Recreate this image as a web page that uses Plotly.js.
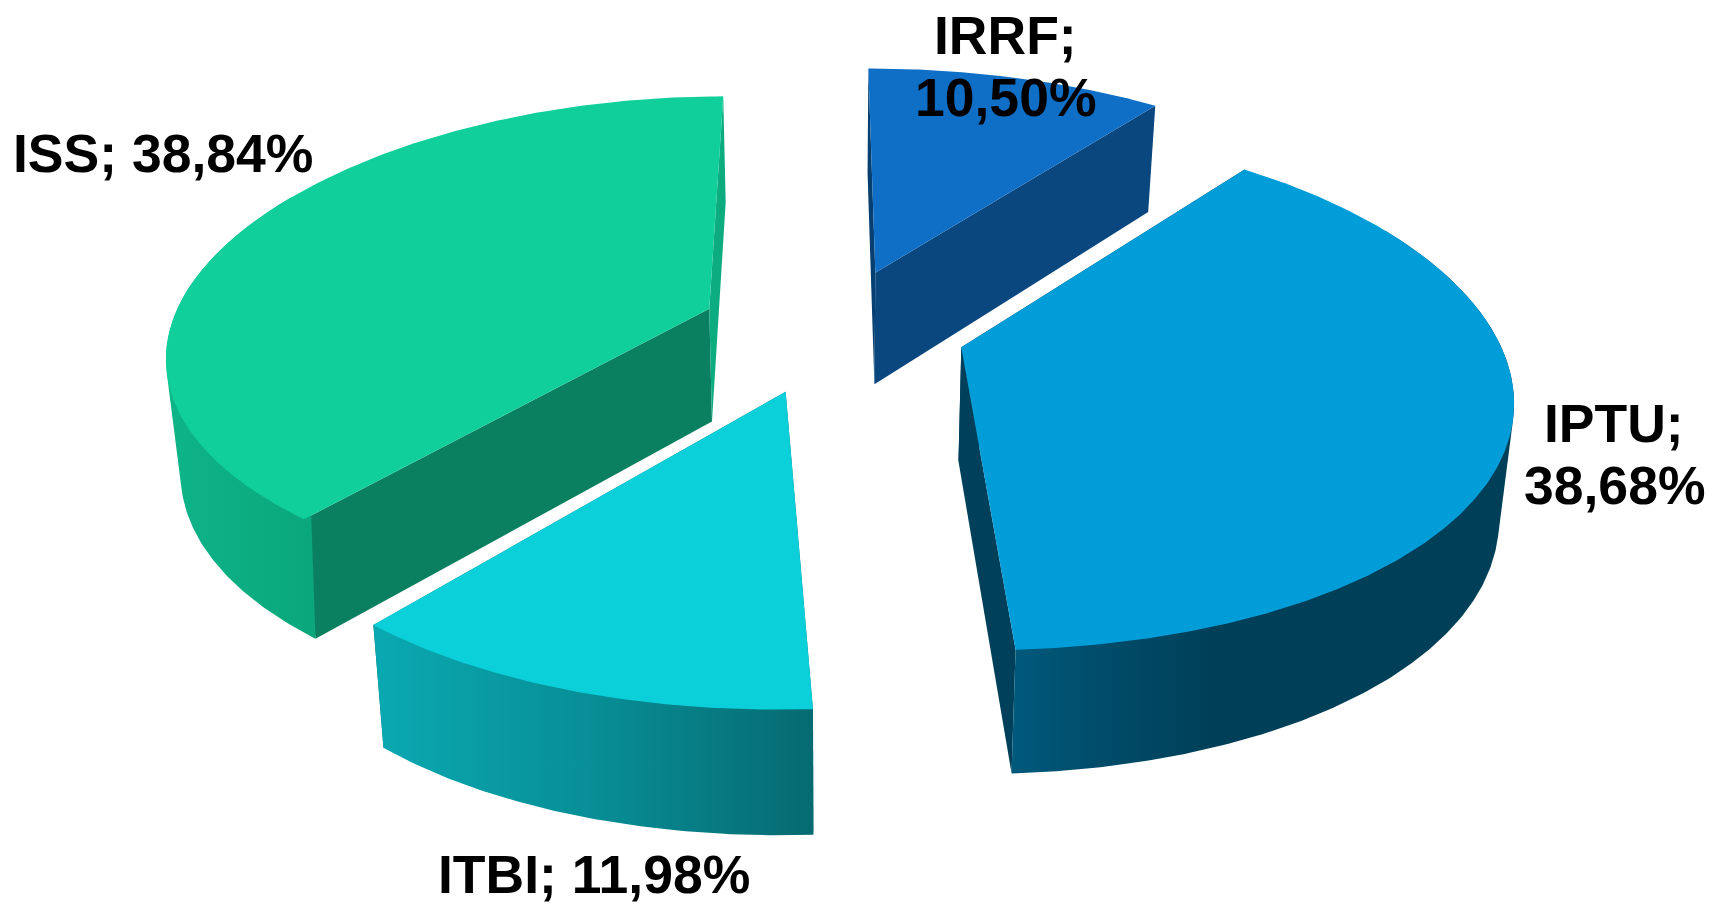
<!DOCTYPE html>
<html><head><meta charset="utf-8">
<script src="https://cdn.plot.ly/plotly-3.0.1.min.js"></script>
<style>html,body{margin:0;padding:0;background:#fff}#c{width:1710px;height:903px}</style>
</head><body><div id="c"></div>
<script>
const categories = ["IRRF","IPTU","ITBI","ISS"];
const shares = [10.50,38.68,11.98,38.84];

// exploded-slice distance, as in a pie's "pull"
const pull = [0.245,0.25,0.272,0.243];
const topColors = ["#0F6FC6","#009DD9","#0BD0D9","#10CF9B"];
const startWallColors = ["#063F70","#00405A","#066D74","#0B8061"];
const endWallColors = ["#0A477F","#00405A","#066D74","#0CAB80"];
const outerWallScales = [
  [[0,"#0A477F"],[1,"#0A477F"]],
  [[0,"#005A7C"],[0.15,"#004E6C"],[0.4,"#003F58"],[1,"#003F58"]],
  [[0,"#0AA9B2"],[0.5,"#088E96"],[1,"#066A71"]],
  [[0,"#0EB488"],[1,"#0BA67C"]]
];
// projection of the pie plane on the page
const view = {cx:832.5,cy:329,a:540,b:243,k:0.19,depth0:106,depthY0:96,depthGrow:0.032,shrink:0.978};
// small per-slice perspective corrections (far side / near side of the slice)
const shearFar = [-7,-4,0,14];
const shearNear = [0,20,-7,-4];
const stretchFar = [1,1.07,1.18,1.04];
const stretchNear = [1,1.01,1.06,0.96];
const widen = [0.99,1,1,0.985];
const labelLines = [
  [{x:1005,y:35,text:"IRRF;"},{x:1005,y:97,text:null}],
  [{x:1614,y:423,text:"IPTU;"},{x:1614,y:485,text:null}],
  [{x:594,y:874,text:"full"}],
  [{x:163,y:153,text:"full"}]
];

function local(i,u,v){
  const w = 1+view.k*v;
  const sh = (shearFar[i]-shearNear[i])/2*v + (shearFar[i]+shearNear[i])/2*v*v;
  const st = (stretchFar[i]+stretchNear[i])/2 + (stretchFar[i]-stretchNear[i])/2*v;
  return [view.a*widen[i]*u/w + sh, -view.b*v/w*st];
}
function lower(p){
  return [view.cx+(p[0]-view.cx)*view.shrink, p[1]+view.depth0+view.depthGrow*(p[1]-view.depthY0)];
}
function hull(points){
  const pts = points.slice().sort((a,b)=>a[0]-b[0]||a[1]-b[1]);
  const cross = (o,a,b)=>(a[0]-o[0])*(b[1]-o[1])-(a[1]-o[1])*(b[0]-o[0]);
  const lo = [], up = [];
  pts.forEach(p=>{while(lo.length>1&&cross(lo[lo.length-2],lo[lo.length-1],p)<=0)lo.pop();lo.push(p);});
  pts.slice().reverse().forEach(p=>{while(up.length>1&&cross(up[up.length-2],up[up.length-1],p)<=0)up.pop();up.push(p);});
  return lo.slice(0,-1).concat(up.slice(0,-1));
}
const rad = d=>d*Math.PI/180;
const total = shares.reduce((s,v)=>s+v,0);

const traces = [];
function addPoly(name,pts,extra){
  const closed = pts.concat([pts[0]]);
  traces.push(Object.assign({type:"scatter",mode:"lines",name,showlegend:false,hoverinfo:"name",
    x:closed.map(p=>p[0]),y:closed.map(p=>p[1]),fill:"toself",line:{width:0}},extra));
}
let cum = 0;
const slices = categories.map((name,i)=>{
  const from = cum/total*360;
  cum += shares[i];
  const to = cum/total*360;
  const mid = (from+to)/2, p = pull[i];
  const ax = view.cx+view.a*p*Math.sin(rad(mid)), ay = view.cy-view.b*p*Math.cos(rad(mid));
  const apex = [ax,ay];
  const arc = [], front = [];
  const n = Math.ceil(to-from)*2;
  for(let j=0;j<=n;j++){
    const t = rad(from+(to-from)*j/n);
    const q = local(i,Math.sin(t),Math.cos(t));
    const pt = [ax+q[0],ay+q[1]];
    arc.push(pt);
    if(Math.cos(t)<=0.5) front.push(pt);
  }
  return {name,i,apex,arc,front};
});
// back to front
[0,3,1,2].forEach(k=>{
  const s = slices[k], i = s.i, A = s.apex, arc = s.arc, B = arc[0], E = arc[arc.length-1];
  addPoly(s.name,[A,B,lower(B),lower(A)],{fillcolor:startWallColors[i]});
  addPoly(s.name,[A,E,lower(E),lower(A)],{fillcolor:endWallColors[i]});
  if(s.front.length>1){
    addPoly(s.name,hull(s.front.concat(s.front.map(lower))),{fillcolor:"#000",
      fillgradient:{type:"horizontal",colorscale:outerWallScales[i]}});
  }
  addPoly(s.name,[A].concat(arc),{fillcolor:topColors[i]});
});

const pctText = v=>v.toFixed(2).replace(".",",")+"%";
const annotations = [];
labelLines.forEach((lines,i)=>lines.forEach(l=>{
  const text = l.text==="full" ? categories[i]+"; "+pctText(shares[i]) : (l.text===null ? pctText(shares[i]) : l.text);
  annotations.push({x:l.x,y:l.y,xref:"x",yref:"y",text,showarrow:false,xanchor:"center",yanchor:"middle",
    font:{family:"Liberation Sans, Arial, sans-serif",size:53.5,color:"#000",weight:700}});
}));

Plotly.newPlot("c",traces,{
  width:1710,height:903,margin:{l:0,r:0,t:0,b:0},showlegend:false,
  paper_bgcolor:"#fff",plot_bgcolor:"#fff",
  xaxis:{range:[0,1710],visible:false,fixedrange:true},
  yaxis:{range:[903,0],visible:false,fixedrange:true},
  annotations
},{displayModeBar:false,staticPlot:true});
</script></body></html>
